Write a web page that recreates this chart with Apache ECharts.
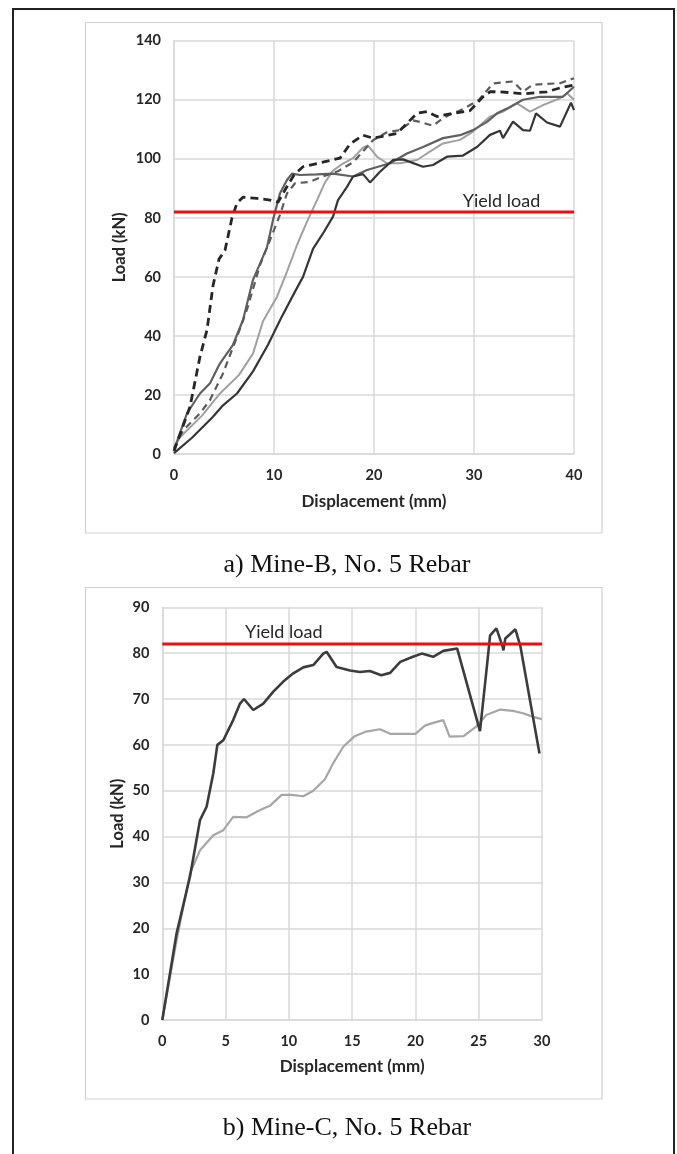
<!DOCTYPE html>
<html>
<head>
<meta charset="utf-8">
<script src="https://cdn.jsdelivr.net/npm/echarts@6/dist/echarts.min.js"></script>
<style>
html,body{margin:0;padding:0;background:#fff;}
#c{width:677px;height:1154px;}
</style>
</head>
<body>
<div id="c"></div>
<script>
// ---------- Data: a) Mine-B, No. 5 Rebar ----------
const topXTicks = [0, 10, 20, 30, 40];
const topYTicks = [0, 20, 40, 60, 80, 100, 120, 140];
const yieldLoad = 82;

const mineB_blackDashed = [[0,1],[1.6,16],[2.6,33],[3.3,42],[3.9,57],[4.5,66],[5.1,69],[5.8,80],[6.3,85],[6.9,87],[8.3,86.6],[9.6,86],[10.4,85.3],[11.2,90],[12,94.5],[12.9,97.3],[14.3,98.4],[16.6,100.2],[17.6,105],[18.9,108],[19.9,107],[22.3,108.6],[23.3,112],[24.3,115.4],[25.3,116],[26.3,114.3],[26.9,114.8],[29.6,116.3],[30.9,121],[31.6,122.7],[32.6,122.7],[35,122],[37.3,122.7],[38.6,124],[40,125]];
const mineB_grayDashed = [[0,2],[0.9,8],[2.6,13.8],[3.6,18.3],[4.9,27.3],[6.3,39.7],[7.3,49],[8.6,64],[9.6,72.5],[10.6,81],[11.3,88.3],[12.1,91.7],[13.6,92.2],[14.8,93.9],[16.4,95.8],[17.9,98.8],[18.9,102.5],[19.9,106.3],[21.3,109],[22.6,109.7],[23.9,113],[24.6,112.5],[25.9,111.2],[26.6,113],[27.5,114.8],[29,117],[30.5,120],[31.9,125.5],[33.9,126.2],[34.9,122.8],[35.9,125.1],[38.6,125.6],[40,127.3]];
const mineB_darkGraySolid = [[0,1.4],[1.3,13.8],[2.6,20.5],[3.6,24],[4.6,30.7],[5.9,37],[6.9,45.4],[7.9,59],[9.3,70],[9.9,79.3],[10.6,88.3],[11.3,92.8],[11.8,95],[12.6,94.5],[14.3,94.7],[15.9,95],[17.9,94],[19.3,96.2],[21.6,98.5],[23.3,101.8],[24.9,104],[26.9,107],[28.6,108],[29.9,109.7],[31.3,112.5],[32.3,115.4],[33.3,117],[34.9,120],[36.6,121],[38.9,121],[40,124.4]];
const mineB_lightGraySolid = [[0,2],[0.6,5.7],[2.8,13],[4.6,20.5],[6.5,26.8],[7.9,34],[8.9,45],[10.3,53.3],[11.3,61.8],[12.3,70.8],[13.3,78.7],[14.3,86],[15.1,92],[15.9,96],[16.9,98.4],[17.9,100.2],[18.9,103.8],[19.4,104.5],[20.3,100.7],[21.3,98.5],[22.6,98.5],[24.3,99.6],[25.3,101.8],[26.9,105.2],[28.6,106.4],[29.9,109.2],[31.6,114.3],[32.9,116],[34.3,118.8],[35.6,116],[36.9,118.2],[38.6,120.5],[39.3,122.2],[40,120]];
const mineB_blackSolid = [[0,0.3],[1.8,5.5],[3.9,12.6],[4.9,16.5],[6.3,20.5],[7.9,28],[9.4,37],[10.7,46],[12.1,55],[12.9,60],[13.9,69.5],[14.9,74.7],[15.9,80.4],[16.4,86],[17.3,90.5],[17.9,94],[18.9,94.8],[19.6,92],[20.6,95.6],[21.9,99.6],[22.9,99.8],[24.9,97.3],[25.9,97.9],[27.3,100.7],[28.9,101.1],[30.3,104],[31.6,108.1],[32.6,109.5],[32.9,107],[33.9,112.6],[34.9,109.7],[35.6,109.5],[36.2,115.4],[37.3,112.3],[38.6,110.9],[39.7,119],[40,116.5]];

// ---------- Data: b) Mine-C, No. 5 Rebar ----------
const botXTicks = [0, 5, 10, 15, 20, 25, 30];
const botYTicks = [0, 10, 20, 30, 40, 50, 60, 70, 80, 90];
const mineC_dark = [[0,0],[1.13,18.9],[2.19,31.3],[2.98,43.6],[3.5,46.5],[4.03,53.8],[4.35,60],[4.82,61],[5.6,65.4],[6.14,69],[6.45,70],[7.19,67.6],[7.98,69],[8.77,71.6],[9.56,73.8],[10.35,75.6],[11.14,76.9],[11.93,77.4],[12.72,79.9],[12.98,80.3],[13.77,77],[14.83,76.2],[15.6,75.9],[16.4,76.1],[17.3,75.2],[18,75.7],[18.8,78.1],[19.8,79.2],[20.5,79.9],[21.4,79.2],[22.2,80.5],[23.3,81],[25.1,63],[25.6,75.9],[25.9,83.9],[26.4,85.4],[26.9,81.3],[26.95,80.6],[27.1,83.2],[27.9,85.2],[28.3,81.4],[29.8,58.1]];
const mineC_light = [[0,0],[1.13,17.4],[2.19,32],[2.98,37],[4.03,40.3],[4.82,41.4],[5.6,44.3],[6.66,44.2],[7.72,45.8],[8.5,46.7],[9.43,49.1],[10.2,49.1],[11.14,48.8],[11.93,50],[12.85,52.5],[13.5,56],[14.3,59.6],[15.2,61.9],[16.1,62.9],[17.2,63.4],[18,62.4],[19,62.4],[20,62.4],[20.75,64.2],[21.4,64.8],[22.2,65.4],[22.7,61.8],[23.8,61.9],[24.8,64],[25.6,66.5],[26.7,67.7],[27.7,67.4],[28.5,66.9],[29.3,66.1],[30,65.6]];

const topLabelPos = [32.75, 85.6];
const botLabelPos = [9.6, 84.6];

// ---------- Chart ----------
const FONT = 'Lato, "Open Sans", sans-serif';
const gridCol = '#d9d9d9';
function xAx(idx, ticks, gap){
  return {
    type:'value', gridIndex:idx, min:ticks[0], max:ticks[ticks.length-1], interval:ticks[1]-ticks[0],
    name:'Displacement (mm)', nameLocation:'middle', nameGap:gap,
    nameTextStyle:{fontFamily:FONT, fontWeight:'bold', fontSize:17, color:'#262626'},
    axisLine:{show:true, lineStyle:{color:gridCol, width:1.5}},
    axisTick:{show:false},
    axisLabel:{fontFamily:FONT, fontWeight:'bold', fontSize:14.5, color:'#262626', margin:14},
    splitLine:{show:true, lineStyle:{color:gridCol, width:1.5}}
  };
}
function yAx(idx, ticks, gap){
  return {
    type:'value', gridIndex:idx, min:ticks[0], max:ticks[ticks.length-1], interval:ticks[1]-ticks[0],
    name:'Load (kN)', nameLocation:'middle', nameGap:gap, nameRotate:90, nameMoveOverlap:false,
    nameTextStyle:{fontFamily:FONT, fontWeight:'bold', fontSize:16.5, color:'#262626'},
    axisLine:{show:true, lineStyle:{color:gridCol, width:1.5}},
    axisTick:{show:false},
    axisLabel:{fontFamily:FONT, fontWeight:'bold', fontSize:14.5, color:'#262626', margin:13},
    splitLine:{show:true, lineStyle:{color:gridCol, width:1.5}}
  };
}
function ln(idx, data, color, width, type, z){
  return {type:'line', xAxisIndex:idx, yAxisIndex:idx, data:data, showSymbol:false, symbol:'none',
    lineStyle:{color:color, width:width, type:type||'solid'}, z:z||2, animation:false, silent:true};
}
function yieldSeries(idx, ticks, labelPos){
  return {type:'line', xAxisIndex:idx, yAxisIndex:idx, showSymbol:false, symbol:'none', animation:false, z:5,
    data:[[ticks[0], yieldLoad],[ticks[ticks.length-1], yieldLoad]],
    lineStyle:{color:'#e81010', width:3},
    markPoint:{symbol:'circle', symbolSize:0, silent:true, animation:false,
      data:[{coord:labelPos, label:{show:true, formatter:'Yield load', position:'inside',
        fontFamily:FONT, fontSize:18, color:'#262626'}}]}
  };
}

const chart = echarts.init(document.getElementById('c'), null, {renderer:'canvas'});
chart.setOption({
  animation:false,
  backgroundColor:'#ffffff',
  grid:[
    {left:174, top:40.7, width:400, height:413.3},
    {left:162.3, top:607.3, width:379.7, height:412.7}
  ],
  xAxis:[xAx(0, topXTicks, 39), xAx(1, botXTicks, 38)],
  yAxis:[yAx(0, topYTicks, 46), yAx(1, botYTicks, 36)],
  graphic:[
    {type:'rect', shape:{x:13, y:9, width:661, height:1160}, style:{fill:'none', stroke:'#222', lineWidth:2}, silent:true},
    {type:'rect', shape:{x:85.5, y:22.5, width:516.5, height:510.5}, style:{fill:'none', stroke:'#d0d0d0', lineWidth:1.2}, silent:true},
    {type:'rect', shape:{x:85.5, y:587.5, width:516.5, height:511.5}, style:{fill:'none', stroke:'#d0d0d0', lineWidth:1.2}, silent:true},
    {type:'text', x:347, y:565, style:{text:'a) Mine-B, No. 5 Rebar', fontFamily:'"Liberation Serif", "Times New Roman", serif', fontSize:26, fill:'#111', align:'center', verticalAlign:'middle'}},
    {type:'text', x:347, y:1128, style:{text:'b) Mine-C, No. 5 Rebar', fontFamily:'"Liberation Serif", "Times New Roman", serif', fontSize:26, fill:'#111', align:'center', verticalAlign:'middle'}}
  ],
  series:[
    ln(0, mineB_lightGraySolid, '#a0a0a0', 2),
    ln(0, mineB_darkGraySolid, '#606060', 2.2),
    ln(0, mineB_blackSolid, '#363636', 2.2),
    ln(0, mineB_grayDashed, '#5c5c5c', 2.2, [7,5]),
    ln(0, mineB_blackDashed, '#262626', 2.8, [8,5]),
    yieldSeries(0, topXTicks, topLabelPos),
    ln(1, mineC_light, '#a6a6a6', 2.2),
    ln(1, mineC_dark, '#3c3c3c', 2.6),
    yieldSeries(1, botXTicks, botLabelPos)
  ]
});
</script>
</body>
</html>
